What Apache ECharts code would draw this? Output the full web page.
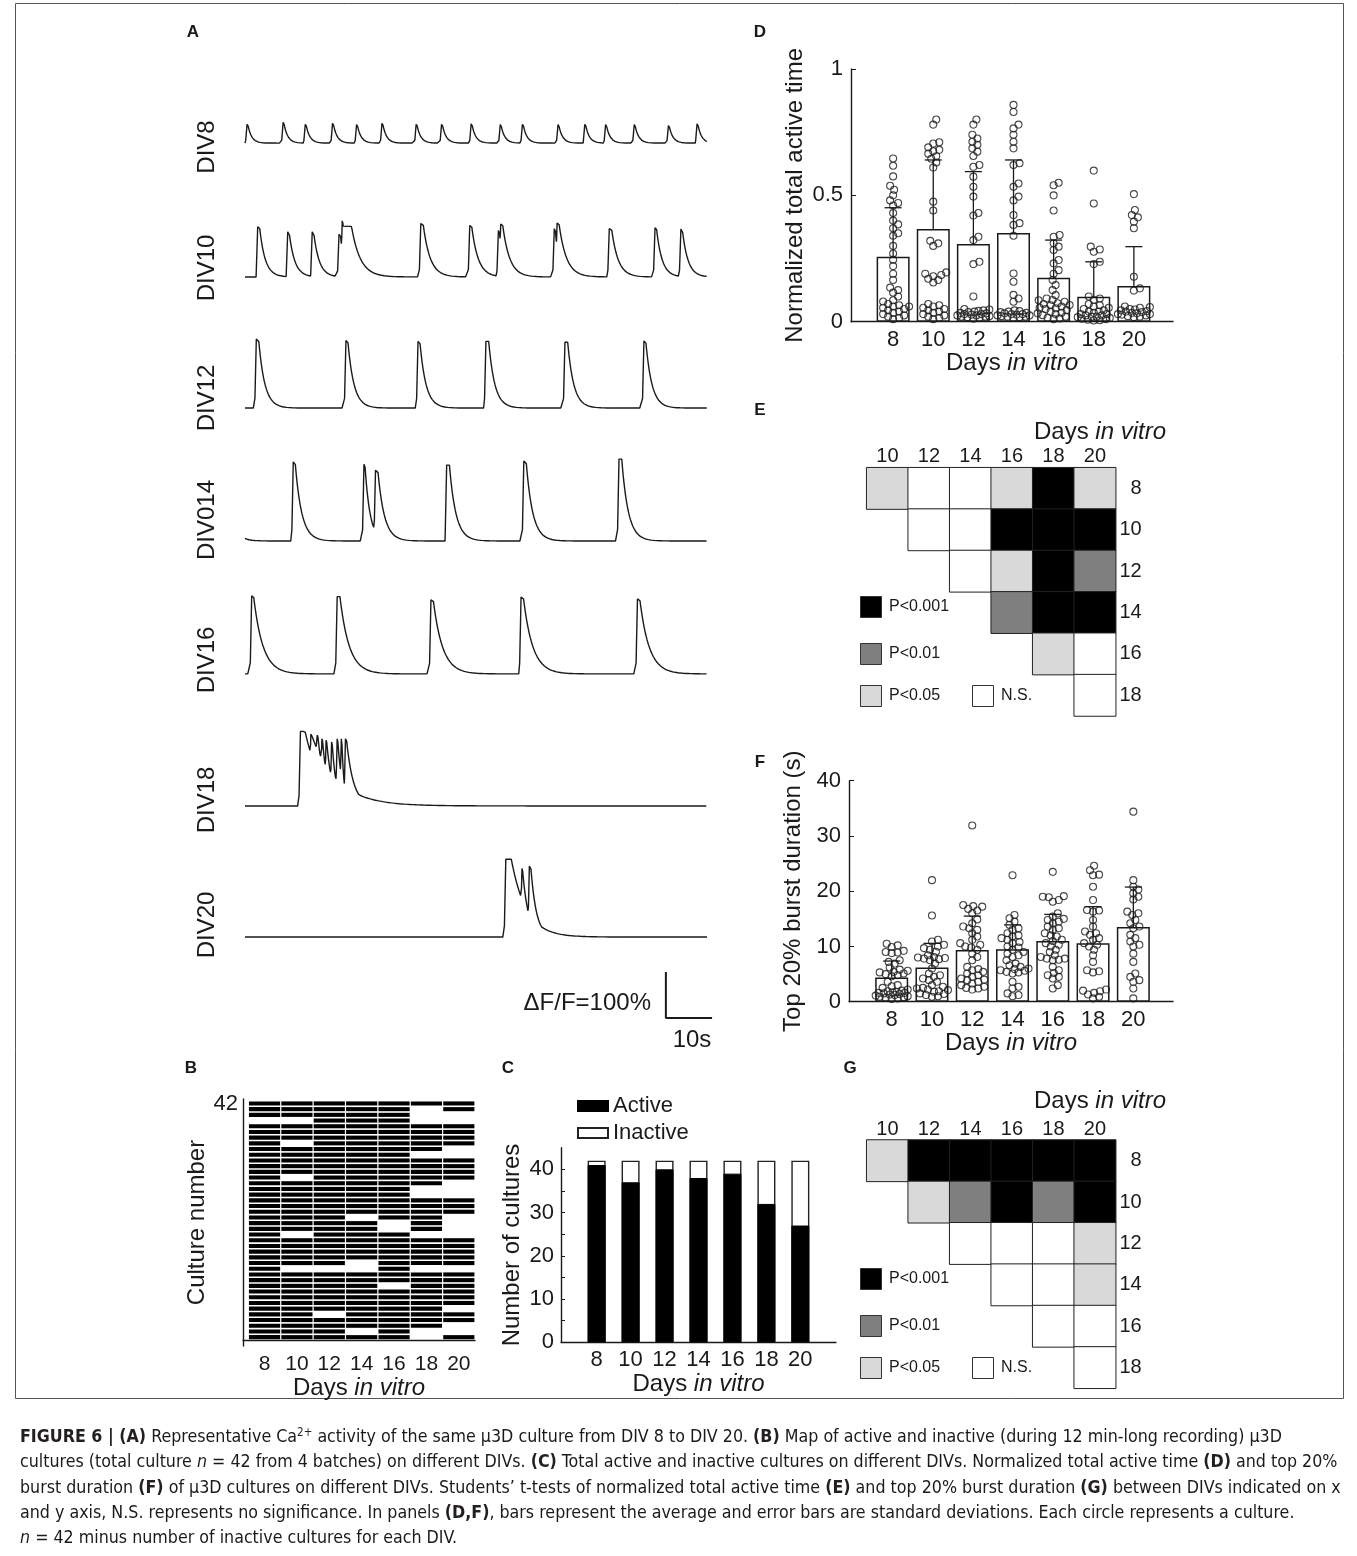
<!DOCTYPE html>
<html><head><meta charset="utf-8">
<script src="https://cdn.jsdelivr.net/npm/echarts@6/dist/echarts.min.js"></script>
<style>html,body{margin:0;padding:0;background:#fff}#c{width:1357px;height:1556px}</style>
</head><body><div id="c"></div>
<script>
// ================= DATA =================
const days = [8, 10, 12, 14, 16, 18, 20];

// Panel A – calcium transients, one event per transient:
// [onset (s), peak dF/F (%), plateau (s), decay time constant (s)]
const traceNames = ['DIV8', 'DIV10', 'DIV12', 'DIV014', 'DIV16', 'DIV18', 'DIV20'];
const eventsDIV8 = [[0.1,41,0.15,0.8],[7.9,45,0.15,0.8],[12.7,41,0.15,0.8],[18.6,43,0.15,0.8],[23.8,40,0.15,0.8],[29.3,43,0.15,0.8],[36.7,41,0.15,0.8],[42.2,41,0.15,0.8],[48.6,42,0.15,0.8],[54.9,40,0.15,0.8],[59.7,41,0.15,0.8],[67.4,40,0.15,0.8],[73.2,41,0.15,0.8],[77.7,40,0.15,0.8],[83.9,40,0.15,0.8],[91.3,38,0.15,0.8],[97.5,42,0.15,0.8]];
const eventsDIV10 = [[2.4,109,0.4,1.2],[8.9,98,0.3,1.2],[14.2,98,0.3,1.2],[20.0,93,0.3,0.8],[20.7,122,0.1,1.0],[20.7,110,2.0,1.9],[37.7,116,0.5,1.5],[48.3,112,0.4,1.4],[54.5,101,0.2,0.8],[55.0,115,0.4,1.5],[66.6,105,0.2,0.8],[67.2,117,0.4,1.6],[78.5,105,0.5,1.4],[88.4,107,0.3,1.2],[94.0,104,0.3,1.2]];
const eventsDIV12 = [[2.1,150,0.5,1.3],[21.5,147,0.4,1.3],[37.1,145,0.4,1.3],[51.8,145,0.6,1.3],[68.9,143,0.6,1.3],[86.0,146,0.4,1.3]];
const eventsDIV14 = [[-4,90,0,1.3],[10.1,172,0.4,1.4],[25.4,167,0.2,1.1],[27.9,154,0.5,1.4],[43.3,165,0.6,1.4],[60.0,174,0.5,1.4],[80.6,178,0.6,1.4]];
const eventsDIV16 = [[1.1,170,0.4,2.0],[19.6,168,0.6,2.0],[39.9,161,0.5,2.0],[59.4,167,0.5,2.0],[84.6,163,0.5,2.0]];
const eventsDIV18 = [[11.65,162,1.0,3.6],[13.9,156,0.1,5.5],[15.3,154,0.1,1.5],[16.3,146,0.1,1.2],[17.2,143,0.1,1.25],[18.4,139,0.1,0.9],[19.6,146,0.1,1.0],[20.5,146,0.1,0.5],[21.4,146,0.2,1.5]];
const eventsDIV20 = [[56.1,169,1.2,3.2],[59.6,149,0.1,1.25],[61.2,154,0.3,1.2]];
const traceLength = 100;           // s
const scaleBarTime = 10;           // s
const scaleBarAmp = 100;           // %

// Panel B – culture numbers that were inactive on each DIV
const inactive8  = [39];
const inactive10 = [39, 35, 29, 19, 13];
const inactive12 = [13, 5];
const inactive14 = [22, 14, 13, 2];
const inactive16 = [21, 20, 10];
const inactive18 = [41, 40, 39, 33, 27, 26, 19, 13, 2, 1];
const inactive20 = [40, 39, 34, 33, 28, 27, 26, 22, 21, 20, 19, 13, 6, 3, 2];
const totalCultures = 42;

// Panel C
const activeCounts   = [41, 37, 40, 38, 39, 32, 27];
const inactiveCounts = [1, 5, 2, 4, 3, 10, 15];

// Panel D – normalized total active time
const activeTimeMean = [0.257, 0.367, 0.307, 0.351, 0.174, 0.099, 0.141];
const activeTimeSD   = [0.194, 0.273, 0.287, 0.289, 0.149, 0.138, 0.156];
const activeTime8  = [0.646,0.617,0.575,0.538,0.522,0.50,0.48,0.47,0.46,0.43,0.40,0.385,0.37,0.35,0.34,0.30,0.27,0.245,0.22,0.19,0.165,0.135,0.125,0.115,0.10,0.085,0.08,0.07,0.065,0.06,0.055,0.05,0.045,0.04,0.035,0.03,0.025,0.02,0.015,0.01,0.06];
const activeTime10 = [0.80,0.78,0.71,0.705,0.69,0.68,0.675,0.665,0.655,0.645,0.63,0.61,0.475,0.44,0.32,0.31,0.30,0.195,0.19,0.185,0.18,0.17,0.165,0.155,0.07,0.065,0.06,0.05,0.045,0.04,0.03,0.025,0.02,0.015,0.01,0.035,0.055];
const activeTime12 = [0.80,0.78,0.74,0.725,0.712,0.70,0.686,0.673,0.656,0.62,0.613,0.574,0.534,0.495,0.43,0.42,0.336,0.323,0.237,0.228,0.10,0.05,0.048,0.045,0.043,0.04,0.038,0.035,0.033,0.03,0.03,0.028,0.025,0.025,0.022,0.02,0.02,0.018,0.015,0.012];
const activeTime14 = [0.858,0.83,0.78,0.765,0.74,0.712,0.686,0.627,0.62,0.547,0.534,0.495,0.48,0.422,0.39,0.383,0.34,0.191,0.158,0.106,0.092,0.079,0.045,0.042,0.04,0.038,0.035,0.033,0.03,0.03,0.028,0.025,0.025,0.022,0.02,0.02,0.018,0.015];
const activeTime16 = [0.55,0.54,0.50,0.44,0.343,0.336,0.31,0.297,0.284,0.244,0.231,0.204,0.19,0.165,0.145,0.125,0.105,0.092,0.086,0.079,0.073,0.066,0.06,0.053,0.046,0.04,0.033,0.026,0.02,0.013,0.07,0.065,0.055,0.05,0.035,0.03,0.015,0.01,0.085];
const activeTime18 = [0.598,0.468,0.297,0.286,0.277,0.237,0.228,0.10,0.092,0.086,0.07,0.065,0.06,0.055,0.05,0.045,0.04,0.04,0.035,0.03,0.03,0.025,0.025,0.02,0.02,0.018,0.015,0.012,0.01,0.008,0.006,0.005];
const activeTime20 = [0.505,0.442,0.422,0.413,0.396,0.37,0.178,0.132,0.123,0.06,0.058,0.055,0.05,0.048,0.045,0.042,0.04,0.038,0.035,0.033,0.03,0.03,0.028,0.025,0.022,0.02,0.018];

// Panel F – top 20% burst duration (s)
const burstMean = [4.4, 6.2, 9.35, 9.5, 11.0, 10.6, 13.5];
const burstSD   = [2.96, 4.36, 6.15, 4.4, 4.8, 6.6, 7.25];
const burst8  = [10.5,10.2,9.9,9.2,9.0,8.9,8.8,7.5,7.2,6.9,6.2,5.8,5.6,5.4,5.3,5.1,5.0,4.8,4.6,3.6,3.0,2.8,2.5,2.2,2.0,1.9,1.8,1.7,1.6,1.5,1.4,1.3,1.2,1.1,1.0,0.9,0.8,0.7,0.6,0.5,1.6];
const burst10 = [22.0,15.6,11.2,10.9,10.3,9.7,9.05,8.4,8.1,7.8,7.5,6.9,6.0,5.1,4.5,3.9,3.6,3.0,2.7,2.4,2.1,1.8,1.5,1.2,0.9,10.0,9.4,8.0,7.9,7.7,4.8,4.2,2.5,2.2,1.9,1.4,1.0];
const burst12 = [31.9,17.5,17.2,16.8,16.0,14.9,14.2,13.6,13.0,12.4,11.8,11.2,10.6,10.3,9.8,9.4,8.7,8.1,7.5,6.3,5.7,5.1,4.8,4.5,4.2,3.9,3.6,3.3,3.0,2.7,2.4,2.2,17.3,16.5,13.3,10.0,5.9,5.4,4.0,2.5];
const burst14 = [22.9,15.7,15.1,14.5,13.9,13.3,13.0,12.4,11.8,11.2,10.6,10.0,9.4,8.7,8.1,7.5,6.9,6.3,6.0,5.7,5.4,5.1,3.6,2.7,1.5,1.0,12.0,11.5,10.8,9.8,9.0,8.4,6.6,5.9,5.6,5.3,2.4,1.2];
const burst16 = [23.5,19.1,18.9,18.4,18.1,16.0,15.4,14.8,14.2,13.6,13.0,12.4,11.8,11.2,10.6,10.0,9.4,8.4,7.8,7.5,6.3,5.7,4.8,4.2,3.0,2.4,19.0,15.0,14.5,13.3,12.0,11.0,10.3,9.0,8.1,7.8,7.6,5.2,4.5];
const burst18 = [24.6,23.8,22.9,20.8,18.4,16.6,16.3,14.8,13.6,12.7,12.1,11.2,10.6,10.3,9.4,8.4,7.2,5.7,5.3,2.2,1.9,1.6,0.9,0.6,16.5,12.4,11.5,10.0,5.5,2.0,1.3,23.0];
const burst20 = [34.4,22.0,20.8,20.3,19.6,19.0,16.3,15.7,14.8,14.2,13.6,13.3,12.1,11.5,10.9,10.3,10.0,8.7,7.2,5.1,4.5,3.9,3.6,2.4,0.6,18.5,16.0];

// Panels E, G – Student's t-test significance: [row DIV, column DIV, level]
// level 3 = P<0.001, 2 = P<0.01, 1 = P<0.05, 0 = N.S.
const sigColsDays = [10, 12, 14, 16, 18, 20];
const sigRowsDays = [8, 10, 12, 14, 16, 18];
const sigE = [[8,10,1],[8,12,0],[8,14,0],[8,16,1],[8,18,3],[8,20,1],[10,12,0],[10,14,0],[10,16,3],[10,18,3],[10,20,3],[12,14,0],[12,16,1],[12,18,3],[12,20,2],[14,16,2],[14,18,3],[14,20,3],[16,18,1],[16,20,0],[18,20,0]];
const sigG = [[8,10,1],[8,12,3],[8,14,3],[8,16,3],[8,18,3],[8,20,3],[10,12,1],[10,14,2],[10,16,3],[10,18,2],[10,20,3],[12,14,0],[12,16,0],[12,18,0],[12,20,1],[14,16,0],[14,18,0],[14,20,1],[16,18,0],[16,20,0],[18,20,0]];
const sigLabels = ['N.S.', 'P<0.05', 'P<0.01', 'P<0.001'];

// ================= LAYOUT / STYLE =================
const FONT = "'Liberation Sans', Arial, Helvetica, sans-serif";
const CAPFONT = "'Liberation Sans Narrow', 'DejaVu Sans Condensed', 'Liberation Sans', Arial, sans-serif";
const INK = '#1a1a1a';
const SIGCOL = ['#ffffff', '#d9d9d9', '#7f7f7f', '#000000'];

const G = {
  A: {left: 245, top: 98, width: 471.24, height: 920},
  B: {left: 243, top: 1099, width: 232, height: 247},
  C: {left: 561, top: 1147.7, width: 275, height: 194.6},
  D: {left: 851, top: 69, width: 322, height: 252.7},
  E: {left: 866.7, top: 467.7, width: 249, height: 248.3},
  F: {left: 849, top: 780.7, width: 324, height: 221},
  Gs:{left: 866.7, top: 1140, width: 249, height: 248.3}
};
const traceOffsets = [1902, 1611, 1326, 1037, 748, 461, 176];   // vertical stacking (%)
const traceLabelY  = [147, 268, 398, 520, 660, 800, 925];
const A_YMAX = 2000, A_XMAX = 102;

// ================= HELPERS =================
const RISE = 0.35;
function buildTrace(events, offset) {
  const out = [];
  for (let i = 0; i <= traceLength * 20; i++) {
    const t = i / 20;
    let v = 0;
    for (const [t0, A, pl, tau] of events) {
      const d = t - t0;
      if (d < 0) continue;
      let k;
      if (d < RISE) k = A * d / RISE;
      else if (d < RISE + pl) k = A;
      else k = A * Math.exp(-(d - RISE - pl) / tau);
      if (k > v) v = k;
    }
    out.push([t, v + offset]);
  }
  return out;
}
function swarm(vals, pxY, pxX, minD, maxOff) {
  const idx = vals.map((v, i) => i).sort((a, b) => vals[a] - vals[b]);
  const placed = [];
  const off = new Array(vals.length).fill(0);
  for (const i of idx) {
    const y = vals[i] * pxY;
    let chosen = null, bestScore = -1, bestX = 0;
    for (let k = 0; k <= maxOff && chosen === null; k++) {
      for (const s of (k === 0 ? [0] : [k, -k])) {
        let md = Infinity;
        for (const p of placed) { const d = Math.hypot(p[0] - s, p[1] - y); if (d < md) md = d; }
        if (md >= minD) { chosen = s; break; }
        if (md > bestScore) { bestScore = md; bestX = s; }
      }
    }
    if (chosen === null) chosen = bestX;
    placed.push([chosen, y]);
    off[i] = chosen / pxX;
  }
  return off;
}
function swarmData(groups, pxY, pxX) {
  const out = [];
  groups.forEach((vals, gi) => {
    const off = swarm(vals, pxY, pxX, 5.6, 16);
    vals.forEach((v, i) => out.push([days[gi] + off[i], v]));
  });
  return out;
}
function errRender(params, api) {
  const x = api.value(0), m = api.value(1), s = api.value(2);
  const p0 = api.coord([x, m]), p1 = api.coord([x, m + s]);
  return {type: 'group', children: [
    {type: 'line', shape: {x1: p0[0], y1: p0[1], x2: p1[0], y2: p1[1]}, style: {stroke: INK, lineWidth: 1.3}},
    {type: 'line', shape: {x1: p1[0] - 8.5, y1: p1[1], x2: p1[0] + 8.5, y2: p1[1]}, style: {stroke: INK, lineWidth: 1.3}}
  ]};
}
const axisLine = {show: true, lineStyle: {color: INK, width: 1.4}};
const tickLabel = (size) => ({fontSize: size, fontFamily: FONT, color: INK});
const daysName = (gap) => ({
  name: 'Days {i|in vitro}', nameLocation: 'middle', nameGap: gap,
  nameTextStyle: {fontSize: 24, fontFamily: FONT, color: INK, rich: {i: {fontStyle: 'italic', fontSize: 24, fontFamily: FONT, color: INK}}}
});

// ================= BUILD =================
const allEvents = [eventsDIV8, eventsDIV10, eventsDIV12, eventsDIV14, eventsDIV16, eventsDIV18, eventsDIV20];
const grids = [G.A, G.B, G.C, G.D, G.E, G.F, G.Gs];
const xAxis = [], yAxis = [], series = [];

// A
xAxis.push({gridIndex: 0, type: 'value', min: 0, max: A_XMAX, show: false});
yAxis.push({gridIndex: 0, type: 'value', min: 0, max: A_YMAX, show: false});
allEvents.forEach((ev, i) => series.push({
  type: 'line', name: traceNames[i], xAxisIndex: 0, yAxisIndex: 0, showSymbol: false, silent: true,
  data: buildTrace(ev, traceOffsets[i]), lineStyle: {color: INK, width: 1.4}
}));
const sbX = 91.1;
series.push({type: 'line', name: 'scale', xAxisIndex: 0, yAxisIndex: 0, showSymbol: false, silent: true,
  data: [[sbX, scaleBarAmp], [sbX, 0], [sbX + scaleBarTime, 0]], lineStyle: {color: INK, width: 2}});

// B
const inactiveMap = {8: inactive8, 10: inactive10, 12: inactive12, 14: inactive14, 16: inactive16, 18: inactive18, 20: inactive20};
const bCells = [];
days.forEach(d => { for (let r = 1; r <= totalCultures; r++) if (!inactiveMap[d].includes(r)) bCells.push([d, r]); });
xAxis.push({gridIndex: 1, type: 'value', min: 6.67, max: 21, axisLine, axisTick: {show: false}, splitLine: {show: false},
  axisLabel: {...tickLabel(21), margin: 8, customValues: days}, ...daysName(30)});
yAxis.push({gridIndex: 1, type: 'value', min: -1.05, max: 42.28, axisLine, axisTick: {show: false}, splitLine: {show: false},
  axisLabel: {...tickLabel(22), margin: 5, customValues: [41.5], formatter: () => '42'},
  name: 'Culture number', nameLocation: 'middle', nameGap: 28, nameTextStyle: {fontSize: 24, fontFamily: FONT, color: INK}});
series.push({type: 'custom', name: 'map', xAxisIndex: 1, yAxisIndex: 1, silent: true, data: bCells,
  renderItem: (params, api) => {
    const x = api.value(0), r = api.value(1);
    const p0 = api.coord([x - 1, r]), p1 = api.coord([x + 1, r - 1]);
    return {type: 'rect', shape: {x: p0[0] + 0.6, y: p0[1] + 0.8, width: p1[0] - p0[0] - 1.2, height: p1[1] - p0[1] - 1.6}, style: {fill: '#000'}};
  }});

// C  (white bar = all cultures, black bar = active cultures drawn over it)
xAxis.push({gridIndex: 2, type: 'value', min: 5.9, max: 22.1, axisLine, axisTick: {show: false}, splitLine: {show: false},
  axisLabel: {...tickLabel(22), margin: 7, customValues: days}, ...daysName(28)});
yAxis.push({gridIndex: 2, type: 'value', min: 0, max: 45, axisLine, splitLine: {show: false},
  axisTick: {show: true, inside: true, length: 4, customValues: [0,5,10,15,20,25,30,35,40], lineStyle: {color: INK}},
  axisLabel: {...tickLabel(22), margin: 7, customValues: [0,10,20,30,40]},
  name: 'Number of cultures', nameLocation: 'middle', nameGap: 37, nameTextStyle: {fontSize: 24, fontFamily: FONT, color: INK}});
series.push({type: 'bar', name: 'Inactive', xAxisIndex: 2, yAxisIndex: 2, barWidth: 18, barGap: '-100%', silent: true, z: 2,
  data: days.map((d, i) => [d, activeCounts[i] + inactiveCounts[i]]), itemStyle: {color: '#fff', borderColor: '#222', borderWidth: 1.4}});
series.push({type: 'bar', name: 'Active', xAxisIndex: 2, yAxisIndex: 2, barWidth: 18, barGap: '-100%', silent: true, z: 3,
  data: days.map((d, i) => [d, activeCounts[i]]), itemStyle: {color: '#000', borderColor: '#000', borderWidth: 1}});

// D
xAxis.push({gridIndex: 3, type: 'value', min: 5.9, max: 21.95, axisLine, axisTick: {show: false}, splitLine: {show: false},
  axisLabel: {...tickLabel(22), margin: 7, customValues: days}, ...daysName(29)});
yAxis.push({gridIndex: 3, type: 'value', min: 0, max: 1, interval: 0.5, axisLine, splitLine: {show: false},
  axisTick: {show: true, inside: true, length: 5, lineStyle: {color: INK}},
  axisLabel: {...tickLabel(22), margin: 8},
  name: 'Normalized total active time', nameLocation: 'middle', nameGap: 44, nameTextStyle: {fontSize: 24, fontFamily: FONT, color: INK}});
series.push({type: 'bar', name: 'meanD', xAxisIndex: 3, yAxisIndex: 3, barWidth: 33, silent: true, z: 2,
  data: days.map((d, i) => [d, activeTimeMean[i]]), itemStyle: {color: '#fff', borderColor: INK, borderWidth: 1.5}});
series.push({type: 'custom', name: 'errD', xAxisIndex: 3, yAxisIndex: 3, silent: true, z: 3,
  data: days.map((d, i) => [d, activeTimeMean[i], activeTimeSD[i]]), renderItem: errRender});
series.push({type: 'scatter', name: 'ptsD', xAxisIndex: 3, yAxisIndex: 3, silent: true, z: 4, symbol: 'circle', symbolSize: 7,
  data: swarmData([activeTime8, activeTime10, activeTime12, activeTime14, activeTime16, activeTime18, activeTime20], G.D.height / 1, G.D.width / (21.95 - 5.9)),
  itemStyle: {color: 'rgba(255,255,255,0)', borderColor: INK, borderWidth: 1.1}});

// E
const heatAxes = (gi) => {
  xAxis.push({gridIndex: gi, type: 'category', position: 'top', data: sigColsDays.map(String),
    axisLine: {show: false}, axisTick: {show: false}, splitLine: {show: false}, axisLabel: {...tickLabel(20), margin: 1}});
  yAxis.push({gridIndex: gi, type: 'category', position: 'right', inverse: true, data: sigRowsDays.map(String),
    axisLine: {show: false}, axisTick: {show: false}, splitLine: {show: false}, axisLabel: {...tickLabel(20), margin: 26, align: 'right'}});
};
heatAxes(4);
const idxE = series.length;
series.push({type: 'heatmap', name: 'sigE', xAxisIndex: 4, yAxisIndex: 4, silent: true,
  data: sigE.map(([r, c, l]) => [String(c), String(r), l]), itemStyle: {borderColor: '#222', borderWidth: 1}});

// F
xAxis.push({gridIndex: 5, type: 'value', min: 5.88, max: 21.97, axisLine, axisTick: {show: false}, splitLine: {show: false},
  axisLabel: {...tickLabel(22), margin: 7, customValues: days}, ...daysName(29)});
yAxis.push({gridIndex: 5, type: 'value', min: 0, max: 40, interval: 10, axisLine, splitLine: {show: false},
  axisTick: {show: true, inside: true, length: 5, lineStyle: {color: INK}},
  axisLabel: {...tickLabel(22), margin: 8},
  name: 'Top 20% burst duration (s)', nameLocation: 'middle', nameGap: 44, nameTextStyle: {fontSize: 24, fontFamily: FONT, color: INK}});
series.push({type: 'bar', name: 'meanF', xAxisIndex: 5, yAxisIndex: 5, barWidth: 33, silent: true, z: 2,
  data: days.map((d, i) => [d, burstMean[i]]), itemStyle: {color: '#fff', borderColor: INK, borderWidth: 1.5}});
series.push({type: 'custom', name: 'errF', xAxisIndex: 5, yAxisIndex: 5, silent: true, z: 3,
  data: days.map((d, i) => [d, burstMean[i], burstSD[i]]), renderItem: errRender});
series.push({type: 'scatter', name: 'ptsF', xAxisIndex: 5, yAxisIndex: 5, silent: true, z: 4, symbol: 'circle', symbolSize: 7,
  data: swarmData([burst8, burst10, burst12, burst14, burst16, burst18, burst20], G.F.height / 40, G.F.width / (21.97 - 5.88)),
  itemStyle: {color: 'rgba(255,255,255,0)', borderColor: INK, borderWidth: 1.1}});

// G
heatAxes(6);
const idxG = series.length;
series.push({type: 'heatmap', name: 'sigG', xAxisIndex: 6, yAxisIndex: 6, silent: true,
  data: sigG.map(([r, c, l]) => [String(c), String(r), l]), itemStyle: {borderColor: '#222', borderWidth: 1}});

// ================= GRAPHIC TEXT / LEGENDS =================
const gfx = [];
const txt = (x, y, text, o = {}) => gfx.push({type: 'text', x, y, rotation: o.rot || 0, silent: true,
  style: {text, fontSize: o.size || 24, fontFamily: o.font || FONT, fontWeight: o.weight || 'normal', fill: INK,
    align: o.align || 'left', verticalAlign: o.va || 'middle', rich: o.rich}});
// frame
gfx.push({type: 'rect', silent: true, shape: {x: 15.5, y: 3.5, width: 1328, height: 1395}, style: {fill: null, stroke: '#555', lineWidth: 1}});
// panel letters
[['A', 193, 32], ['B', 191, 1068], ['C', 508, 1068], ['D', 760, 32], ['E', 760, 410], ['F', 760, 762], ['G', 850, 1068]]
  .forEach(([t, x, y]) => txt(x, y, t, {size: 17, weight: 'bold', align: 'center'}));
// trace labels
traceNames.forEach((n, i) => txt(207, traceLabelY[i], n, {rot: Math.PI / 2, align: 'center', size: 24}));
// scale bar texts
txt(651, 1003, 'ΔF/F=100%', {align: 'right', size: 24});
txt(692, 1040, '10s', {align: 'center', size: 24});
// E/G titles and significance legends
const richIt = {i: {fontStyle: 'italic', fontSize: 24, fontFamily: FONT, fill: INK}};
function sigLegend(y0, titleY) {
  txt(1166, titleY, 'Days {i|in vitro}', {align: 'right', size: 24, rich: richIt});
  const rows = [[3, 860, y0], [2, 860, y0 + 47], [1, 860, y0 + 89]];
  rows.forEach(([l, x, y]) => {
    gfx.push({type: 'rect', silent: true, shape: {x: x + 0.5, y: y + 0.5, width: 21, height: 21}, style: {fill: SIGCOL[l], stroke: '#333', lineWidth: 1}});
    txt(x + 29, y + 11, sigLabels[l], {size: 16});
  });
  gfx.push({type: 'rect', silent: true, shape: {x: 972.5, y: y0 + 89.5, width: 21, height: 21}, style: {fill: SIGCOL[0], stroke: '#333', lineWidth: 1}});
  txt(1001, y0 + 100, sigLabels[0], {size: 16});
}
sigLegend(596, 432);
sigLegend(1268, 1101);

// caption
const capLines = [
  '{b|FIGURE 6 | (A)} Representative Ca{sup|2+} activity of the same μ3D culture from DIV 8 to DIV 20. {b|(B)} Map of active and inactive (during 12 min-long recording) μ3D',
  'cultures (total culture {i|n} = 42 from 4 batches) on different DIVs. {b|(C)} Total active and inactive cultures on different DIVs. Normalized total active time {b|(D)} and top 20%',
  'burst duration {b|(F)} of μ3D cultures on different DIVs. Students’ t-tests of normalized total active time {b|(E)} and top 20% burst duration {b|(G)} between DIVs indicated on x',
  'and y axis, N.S. represents no significance. In panels {b|(D,F)}, bars represent the average and error bars are standard deviations. Each circle represents a culture.',
  '{i|n} = 42 minus number of inactive cultures for each DIV.'
];
const capY = [1437, 1462, 1488, 1513, 1538];
const cv = document.createElement('canvas').getContext('2d');
cv.font = '20px ' + CAPFONT;
const plain3 = capLines[2].replace(/\{[a-z]+\|([^}]*)\}/g, '$1');
const capSize = Math.min(20, 20 * 1312 / cv.measureText(plain3).width);
const capRich = {
  b: {fontWeight: 'bold', fontSize: capSize, fontFamily: CAPFONT, fill: '#231f20'},
  i: {fontStyle: 'italic', fontSize: capSize, fontFamily: CAPFONT, fill: '#231f20'},
  sup: {fontSize: capSize * 0.65, fontFamily: CAPFONT, fill: '#231f20', verticalAlign: 'top', padding: [0, 0, 6, 0]}
};
capLines.forEach((l, i) => txt(20, capY[i], l, {size: capSize, font: CAPFONT, rich: capRich}));

// ================= OPTION =================
const chart = echarts.init(document.getElementById('c'), null, {renderer: 'canvas'});
chart.setOption({
  animation: false,
  backgroundColor: '#fff',
  textStyle: {fontFamily: FONT, color: INK},
  grid: grids,
  xAxis, yAxis, series,
  legend: {data: [{name: 'Active', icon: 'rect'}, {name: 'Inactive', icon: 'rect'}], orient: 'vertical', left: 572, top: 1090,
    itemWidth: 30, itemHeight: 10, itemGap: 5,
    selectedMode: false, textStyle: {fontSize: 22, fontFamily: FONT, color: INK, lineHeight: 22}},
  visualMap: [{type: 'piecewise', show: false, seriesIndex: [idxE, idxG], dimension: 2,
    pieces: [0, 1, 2, 3].map(v => ({value: v, color: SIGCOL[v]}))}],
  graphic: gfx
});
</script></body></html>
